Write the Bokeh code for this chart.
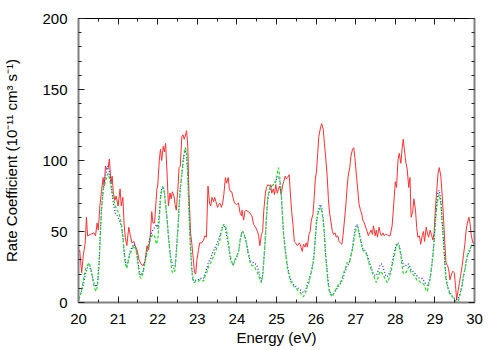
from bokeh.plotting import figure
from bokeh.models import Range1d, LinearAxis, SingleIntervalTicker, CustomJSTickFormatter
from bokeh.embed import file_html
from bokeh.resources import INLINE

red_x = [20.00,20.03,20.08,20.12,20.17,20.20,20.23,20.31,20.39,20.43,20.47,20.50,20.54,20.58,20.62,20.65,20.68,20.72,20.75,20.78,
         20.82,20.85,20.88,20.92,20.95,21.00,21.05,21.08,21.12,21.15,21.18,21.22,21.27,21.31,21.35,21.40,21.43,21.48,21.53,21.58,
         21.63,21.68,21.73,21.77,21.82,21.85,21.88,21.92,21.95,21.98,22.00,22.04,22.07,22.10,22.14,22.17,22.20,22.24,22.27,22.31,
         22.34,22.37,22.41,22.44,22.47,22.51,22.54,22.57,22.61,22.64,22.67,22.71,22.73,22.76,22.79,22.83,22.86,22.89,22.93,22.96,
         22.99,23.03,23.06,23.11,23.16,23.19,23.23,23.27,23.31,23.34,23.37,23.41,23.44,23.47,23.51,23.54,23.57,23.61,23.64,23.67,
         23.71,23.74,23.78,23.81,23.84,23.87,23.91,23.94,23.99,24.04,24.08,24.12,24.13,24.17,24.20,24.23,24.28,24.33,24.38,24.42,
         24.47,24.52,24.55,24.58,24.62,24.65,24.68,24.72,24.75,24.78,24.82,24.85,24.88,24.92,24.95,24.98,25.02,25.05,25.08,25.12,
         25.15,25.18,25.22,25.25,25.28,25.32,25.35,25.38,25.42,25.45,25.48,25.53,25.58,25.62,25.65,25.68,25.72,25.75,25.78,25.82,
         25.85,25.88,25.92,25.95,25.98,26.01,26.04,26.07,26.11,26.14,26.18,26.21,26.24,26.28,26.31,26.34,26.38,26.41,26.44,26.48,
         26.51,26.55,26.58,26.61,26.65,26.68,26.71,26.75,26.78,26.81,26.85,26.88,26.92,26.95,26.98,27.02,27.05,27.08,27.12,27.15,
         27.18,27.22,27.25,27.29,27.32,27.35,27.39,27.42,27.45,27.49,27.52,27.55,27.59,27.62,27.65,27.69,27.72,27.76,27.79,27.82,
         27.87,27.92,27.95,28.00,28.03,28.07,28.10,28.14,28.17,28.20,28.24,28.27,28.30,28.34,28.37,28.40,28.44,28.47,28.51,28.54,
         28.57,28.61,28.64,28.68,28.71,28.74,28.78,28.81,28.84,28.88,28.91,28.95,28.98,29.01,29.05,29.08,29.11,29.15,29.18,29.22,
         29.25,29.28,29.32,29.35,29.38,29.42,29.45,29.49,29.52,29.55,29.59,29.62,29.65,29.69,29.72,29.76,29.79,29.82,29.86,29.89,
         29.92,29.96,30.00]
red_y = [35,37,21,33,42,60,47,48,49,47,56,51,68,78,88,82,96,94,95,101,
         84,89,77,72,75,68,80,68,74,56,46,40,53,47,42,43,40,37,30,27,
         26,29,40,37,49,64,56,56,68,80,82,100,108,100,110,106,112,89,68,77,
         73,78,75,69,65,80,95,96,117,118,115,119,121,110,77,49,42,33,21,20,
         30,37,42,42,44,47,46,82,70,68,74,71,74,71,67,69,70,67,70,76,
         88,84,88,80,78,78,73,70,69,70,63,61,65,58,64,65,64,63,61,55,
         53,50,47,40,48,50,65,77,81,83,82,83,77,80,76,83,77,80,82,76,
         82,85,89,87,88,90,77,65,54,43,42,40,42,39,36,41,39,42,39,48,
         50,58,62,73,87,92,105,117,123,126,122,112,103,89,73,63,56,50,48,49,
         46,47,43,42,41,47,56,68,80,89,95,103,108,109,102,89,80,70,65,63,
         58,56,53,50,47,49,51,48,54,47,51,46,53,49,47,49,47,48,48,47,
         47,54,65,85,81,101,105,98,108,115,105,98,94,81,88,60,64,73,65,53,
         46,47,41,47,50,43,53,49,46,51,48,44,49,65,80,91,95,89,77,58,
         42,28,26,23,16,20,22,21,12,2,9,14,19,26,33,42,51,56,60,55,
         47,42,42]

green_x = [20.00,20.05,20.10,20.17,20.22,20.27,20.32,20.37,20.42,20.45,20.48,20.52,20.55,20.58,20.63,20.68,20.72,20.75,20.78,20.83,
           20.88,20.93,20.98,21.03,21.08,21.12,21.15,21.18,21.22,21.25,21.30,21.35,21.40,21.45,21.48,21.52,21.55,21.58,21.63,21.68,
           21.73,21.78,21.83,21.88,21.93,21.97,22.00,22.04,22.07,22.10,22.14,22.17,22.20,22.24,22.27,22.31,22.34,22.37,22.41,22.44,
           22.47,22.51,22.54,22.57,22.61,22.64,22.67,22.70,22.73,22.76,22.79,22.82,22.86,22.89,22.92,22.97,23.02,23.07,23.11,23.16,
           23.19,23.24,23.29,23.34,23.37,23.42,23.47,23.52,23.57,23.60,23.64,23.67,23.71,23.74,23.78,23.81,23.84,23.88,23.91,23.95,
           24.00,24.05,24.08,24.12,24.15,24.18,24.22,24.25,24.28,24.32,24.35,24.38,24.42,24.45,24.48,24.52,24.55,24.58,24.62,24.65,
           24.68,24.72,24.75,24.78,24.82,24.85,24.88,24.92,24.95,24.98,25.02,25.05,25.08,25.12,25.15,25.18,25.22,25.25,25.28,25.32,
           25.35,25.38,25.42,25.45,25.50,25.55,25.60,25.65,25.68,25.72,25.75,25.78,25.82,25.85,25.88,25.92,25.95,25.98,26.01,26.04,
           26.08,26.11,26.14,26.18,26.21,26.24,26.28,26.31,26.34,26.38,26.41,26.44,26.48,26.53,26.58,26.63,26.68,26.71,26.75,26.78,
           26.82,26.85,26.88,26.92,26.95,26.98,27.02,27.05,27.08,27.12,27.15,27.18,27.22,27.25,27.29,27.32,27.35,27.39,27.42,27.45,
           27.49,27.52,27.55,27.59,27.62,27.66,27.69,27.72,27.76,27.79,27.82,27.86,27.89,27.92,27.95,27.99,28.03,28.07,28.10,28.14,
           28.17,28.20,28.24,28.27,28.30,28.34,28.37,28.40,28.44,28.47,28.51,28.54,28.57,28.61,28.64,28.68,28.71,28.74,28.78,28.81,
           28.84,28.88,28.91,28.95,28.98,29.01,29.05,29.08,29.11,29.15,29.18,29.22,29.25,29.28,29.32,29.35,29.38,29.42,29.45,29.49,
           29.52,29.55,29.59,29.62,29.65,29.69,29.72,29.76,29.79,29.82,29.86,29.89,29.92,29.96,30.00]
green_y = [2,5,12,23,26,28,23,14,9,8,12,26,47,65,80,85,89,91,88,80,
           73,68,65,62,56,47,37,28,24,28,34,37,40,37,32,23,18,17,21,28,
           35,40,46,48,46,41,44,58,73,80,81,77,68,58,47,35,26,21,21,23,
           35,51,68,80,91,100,106,109,105,89,65,42,23,15,14,15,15,16,16,15,
           18,21,26,28,30,33,37,40,44,49,53,55,54,51,44,37,32,28,26,30,
           33,37,44,49,50,48,44,40,35,30,27,26,26,25,23,21,19,16,14,19,
           30,47,63,75,80,82,82,83,83,85,91,95,89,77,61,47,37,30,23,19,
           15,14,12,11,10,8,7,5,4,6,8,12,14,18,21,26,33,45,56,62,
           65,67,65,58,47,33,21,12,7,5,4,6,8,11,13,15,19,22,25,28,
           28,29,33,37,43,48,53,54,49,44,40,37,36,35,33,29,26,23,21,19,
           16,14,16,20,22,21,19,18,16,14,15,19,21,26,30,35,40,41,39,33,
           26,21,20,21,23,25,23,21,20,19,18,16,15,15,14,14,13,12,8,8,
           12,16,23,33,42,56,68,74,76,70,58,42,28,16,11,8,6,5,4,2,
           1,0.5,1,4,7,12,18,23,29,33,35,37,40,40,41]

blue_x = green_x
blue_y = [4,6,10,19,24,26,22,16,12,11,14,28,48,66,82,88,95,96,92,82,
          70,63,61,58,54,46,36,29,26,29,36,39,41,38,33,25,20,19,22,29,
          36,43,48,51,53,55,52,62,74,80,82,78,69,58,47,36,30,27,24,25,
          36,52,68,80,90,98,104,107,104,90,66,44,25,17,15,16,16,17,17,17,
          20,24,29,31,34,37,40,43,47,50,54,55,52,47,41,35,30,27,27,29,
          32,37,43,49,50,48,45,41,36,31,29,28,28,27,27,25,22,18,15,19,
          29,45,60,72,78,81,82,83,84,86,88,89,86,76,62,48,38,31,25,20,
          17,15,13,12,11,10,9,8,7,8,10,13,16,19,23,28,35,46,57,63,
          67,69,67,59,48,34,22,13,8,6,5,6,8,10,12,14,17,20,23,26,
          27,29,33,39,46,51,55,54,50,45,41,38,37,36,34,31,28,25,22,20,
          19,19,21,24,27,27,25,22,19,18,19,21,24,28,32,37,41,42,40,35,
          30,26,25,26,27,27,25,23,22,21,20,19,18,17,17,17,16,14,13,12,
          14,18,24,34,44,58,71,78,79,72,59,43,29,18,12,9,7,5,4,3,
          2,2,3,5,8,13,19,24,29,33,36,38,40,41,42]

x_label = "Energy (eV)"
y_label = "Rate Coefficient (10\u207b\u00b9\u00b9 cm\u00b3 s\u207b\u00b9)"

FONT = "Liberation Sans"

p = figure(width=492, height=348, output_backend="svg", toolbar_location=None,
           x_range=Range1d(20, 30), y_range=Range1d(0, 200),
           min_border_left=77, min_border_right=18, min_border_top=18, min_border_bottom=43)
p.background_fill_color = "white"
p.border_fill_color = "white"
p.outline_line_color = None
p.xgrid.visible = False
p.ygrid.visible = False

p.line(red_x, red_y, line_color="#ff3030", line_width=1)
p.line(blue_x, blue_y, line_color="#2020ff", line_width=1.2, line_dash="1 2")
p.line(green_x, green_y, line_color="#22dd22", line_width=1.2, line_dash="3 2")

xt = SingleIntervalTicker(interval=1, num_minor_ticks=2)
yt = SingleIntervalTicker(interval=50, num_minor_ticks=5)

bottom = p.below[0]
left = p.left[0]
bottom.ticker = xt
left.ticker = yt

blank = CustomJSTickFormatter(code="return '';")
top = LinearAxis(ticker=xt, formatter=blank, major_label_standoff=0)
right = LinearAxis(ticker=yt, formatter=blank, major_label_standoff=0)
p.add_layout(top, "above")
p.add_layout(right, "right")

for ax in [bottom, left, top, right]:
    ax.major_tick_in = 6
    ax.major_tick_out = 0
    ax.minor_tick_in = 3
    ax.minor_tick_out = 0
    ax.major_tick_line_color = "#222222"
    ax.minor_tick_line_color = "#222222"
    ax.axis_line_color = "#808080"
    ax.axis_line_width = 2
    ax.major_label_text_font = FONT
    ax.major_label_text_color = "black"
    ax.axis_label_text_font = FONT
    ax.axis_label_text_font_style = "normal"
    ax.axis_label_text_color = "black"

top.axis_line_color = "black"
top.axis_line_width = 1

bottom.major_label_text_font_size = "15px"
left.major_label_text_font_size = "15px"
bottom.major_label_standoff = 11
left.major_label_standoff = 11
bottom.axis_label = x_label
left.axis_label = y_label
bottom.axis_label_text_font_size = "15px"
left.axis_label_text_font_size = "15px"
bottom.axis_label_standoff = 2
left.axis_label_standoff = 19

open("out.html", "w").write(file_html(p, INLINE))
